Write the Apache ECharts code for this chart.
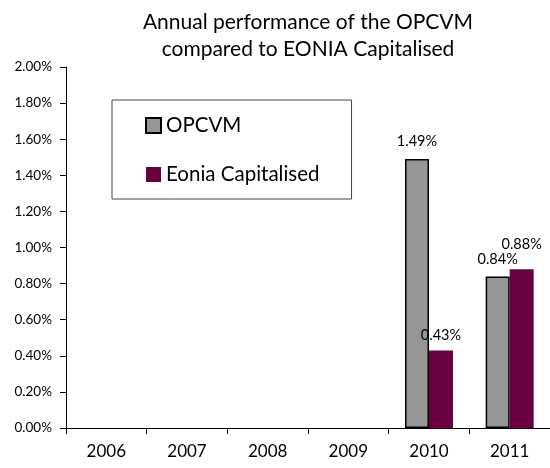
<!DOCTYPE html>
<html>
<head>
<meta charset="utf-8">
<script src="https://cdn.jsdelivr.net/npm/echarts@6/dist/echarts.min.js"></script>
<style>html,body{margin:0;padding:0;background:#fff}#c{width:550px;height:468px}</style>
</head>
<body>
<div id="c"></div>
<script>
var categories = ['2006', '2007', '2008', '2009', '2010', '2011'];
var opcvm = [null, null, null, null, 1.49, 0.84];
var eonia = [null, null, null, null, 0.43, 0.88];
var titleLines = ['Annual performance of the OPCVM', 'compared to EONIA Capitalised'];
var seriesNames = ['OPCVM', 'Eonia Capitalised'];

var font = 'Lato, "Liberation Sans", sans-serif';
function lbl(dist) {
  return {show: true, position: 'top', distance: dist, color: '#000', fontSize: 14.5, fontFamily: font,
    formatter: function (p) { return p.value.toFixed(2) + '%'; }};
}
var labelDist = {o: [0,0,0,0,10,10], e: [0,0,0,0,8,17]};

var chart = echarts.init(document.getElementById('c'), null, {renderer: 'canvas'});
chart.setOption({
  animation: false,
  backgroundColor: '#fff',
  title: {
    text: titleLines.join('\n'),
    left: 303, top: 4, textAlign: 'center',
    textStyle: {fontFamily: font, fontWeight: 'normal', fontSize: 21, color: '#000', lineHeight: 27}
  },
  legend: {
    orient: 'vertical', left: 112, top: 100,
    data: seriesNames,
    itemWidth: 15, itemHeight: 15, itemGap: 28,
    padding: [15, 32, 14, 33],
    borderColor: '#444', borderWidth: 1,
    textStyle: {fontFamily: font, fontSize: 20.5, color: '#000', lineHeight: 21},
    icon: 'rect'
  },
  grid: {left: 66, right: 0, top: 67, bottom: 40},
  xAxis: {
    type: 'category', data: categories,
    axisLine: {lineStyle: {color: '#000', width: 1}},
    axisTick: {show: true, length: 6, lineStyle: {color: '#000'}},
    axisLabel: {color: '#000', fontSize: 17, fontFamily: font, margin: 15}
  },
  yAxis: {
    type: 'value', min: 0, max: 2, interval: 0.2,
    axisLine: {show: true, lineStyle: {color: '#000'}},
    axisTick: {show: true, length: 6, lineStyle: {color: '#000'}},
    splitLine: {show: false},
    axisLabel: {color: '#000', fontSize: 13.5, fontFamily: font, margin: 14,
      formatter: function (v) { return v.toFixed(2) + '%'; }}
  },
  series: [
    {name: seriesNames[0], type: 'bar', barWidth: 24, barGap: '0%',
      itemStyle: {color: '#969696', borderColor: '#000', borderWidth: 1.5},
      data: opcvm.map(function (v, i) { return v == null ? null : {value: v, label: lbl(labelDist.o[i])}; })},
    {name: seriesNames[1], type: 'bar', barWidth: 24, barGap: '0%',
      itemStyle: {color: '#690040', borderColor: '#690040', borderWidth: 0},
      data: eonia.map(function (v, i) { return v == null ? null : {value: v, label: lbl(labelDist.e[i])}; })}
  ]
});
</script>
</body>
</html>
